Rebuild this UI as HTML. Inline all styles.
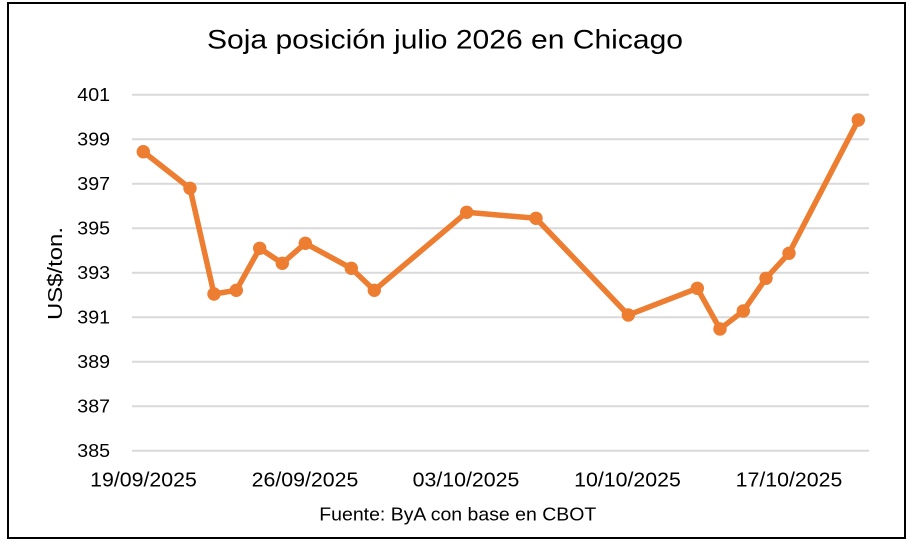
<!DOCTYPE html>
<html><head><meta charset="utf-8"><style>
html,body{margin:0;padding:0;background:#fff;}
svg{display:block;}
text{font-family:"Liberation Sans",Arial,sans-serif;fill:#000;}
</style></head><body>
<svg width="915" height="550" viewBox="0 0 915 550" xmlns="http://www.w3.org/2000/svg">
<rect x="0" y="0" width="915" height="550" fill="#fff"/>
<rect x="8" y="3" width="897" height="535" fill="#fff" stroke="#000" stroke-width="2"/>
<text x="207" y="48.5" font-size="27" textLength="476" lengthAdjust="spacingAndGlyphs">Soja posición julio 2026 en Chicago</text>
<g stroke="#d9d9d9" stroke-width="2">
<line x1="132" y1="94.7" x2="869" y2="94.7"/>
<line x1="132" y1="139.2" x2="869" y2="139.2"/>
<line x1="132" y1="183.7" x2="869" y2="183.7"/>
<line x1="132" y1="228.2" x2="869" y2="228.2"/>
<line x1="132" y1="272.7" x2="869" y2="272.7"/>
<line x1="132" y1="317.2" x2="869" y2="317.2"/>
<line x1="132" y1="361.7" x2="869" y2="361.7"/>
<line x1="132" y1="406.2" x2="869" y2="406.2"/>
<line x1="132" y1="450.7" x2="869" y2="450.7"/>
</g>
<g font-size="18" text-anchor="end">
<text x="110" y="101.2" textLength="32.7" lengthAdjust="spacingAndGlyphs">401</text>
<text x="110" y="145.7" textLength="32.7" lengthAdjust="spacingAndGlyphs">399</text>
<text x="110" y="190.2" textLength="32.7" lengthAdjust="spacingAndGlyphs">397</text>
<text x="110" y="234.7" textLength="32.7" lengthAdjust="spacingAndGlyphs">395</text>
<text x="110" y="279.2" textLength="32.7" lengthAdjust="spacingAndGlyphs">393</text>
<text x="110" y="323.7" textLength="32.7" lengthAdjust="spacingAndGlyphs">391</text>
<text x="110" y="368.2" textLength="32.7" lengthAdjust="spacingAndGlyphs">389</text>
<text x="110" y="412.7" textLength="32.7" lengthAdjust="spacingAndGlyphs">387</text>
<text x="110" y="457.2" textLength="32.7" lengthAdjust="spacingAndGlyphs">385</text>
</g>
<g font-size="20" text-anchor="middle">
<text x="143.5" y="486.7" textLength="106.7" lengthAdjust="spacingAndGlyphs">19/09/2025</text>
<text x="305" y="486.7" textLength="106.7" lengthAdjust="spacingAndGlyphs">26/09/2025</text>
<text x="466" y="486.7" textLength="106.7" lengthAdjust="spacingAndGlyphs">03/10/2025</text>
<text x="627.5" y="486.7" textLength="106.7" lengthAdjust="spacingAndGlyphs">10/10/2025</text>
<text x="789" y="486.7" textLength="106.7" lengthAdjust="spacingAndGlyphs">17/10/2025</text>
</g>
<text x="319.3" y="520.7" font-size="18.5" textLength="277" lengthAdjust="spacingAndGlyphs">Fuente: ByA con base en CBOT</text>
<text transform="translate(62,320) rotate(-90)" x="0" y="0" font-size="20" textLength="93" lengthAdjust="spacingAndGlyphs">US$/ton.</text>
<polyline fill="none" stroke="#ED7D31" stroke-width="5.5" stroke-linejoin="round" stroke-linecap="round"
points="143.3,151.7 190,188.3 214,294 236.3,290.3 259.7,248.3 282.3,263.3 305.3,243.3 351.3,268.3 374.3,290.3 466.7,212.3 536,218.3 628.3,315 697.3,288.3 720,329 743.3,311 766,278.3 789,253.3 858.3,120"/>
<g fill="#ED7D31">
<circle cx="143.3" cy="151.7" r="6.7"/>
<circle cx="190" cy="188.3" r="6.7"/>
<circle cx="214" cy="294" r="6.7"/>
<circle cx="236.3" cy="290.3" r="6.7"/>
<circle cx="259.7" cy="248.3" r="6.7"/>
<circle cx="282.3" cy="263.3" r="6.7"/>
<circle cx="305.3" cy="243.3" r="6.7"/>
<circle cx="351.3" cy="268.3" r="6.7"/>
<circle cx="374.3" cy="290.3" r="6.7"/>
<circle cx="466.7" cy="212.3" r="6.7"/>
<circle cx="536" cy="218.3" r="6.7"/>
<circle cx="628.3" cy="315" r="6.7"/>
<circle cx="697.3" cy="288.3" r="6.7"/>
<circle cx="720" cy="329" r="6.7"/>
<circle cx="743.3" cy="311" r="6.7"/>
<circle cx="766" cy="278.3" r="6.7"/>
<circle cx="789" cy="253.3" r="6.7"/>
<circle cx="858.3" cy="120" r="6.7"/>
</g>
</svg>
</body></html>
